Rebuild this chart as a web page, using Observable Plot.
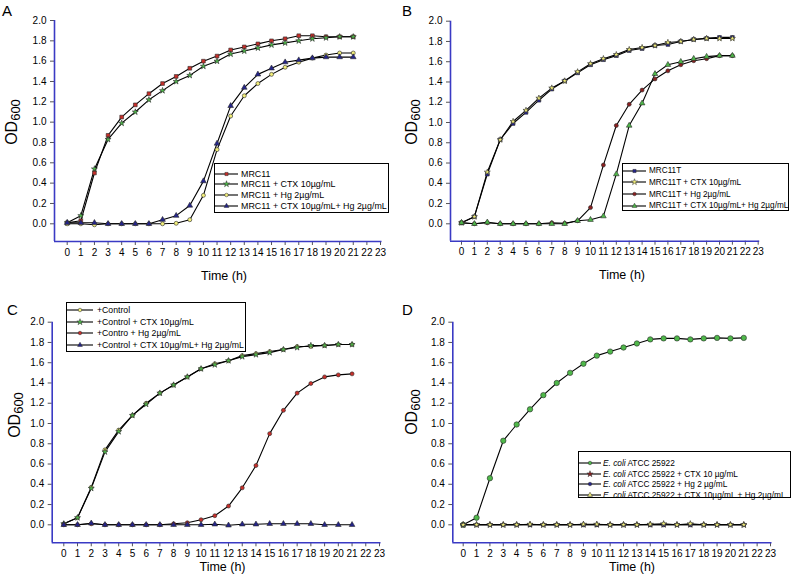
<!DOCTYPE html>
<html>
<head>
<meta charset="utf-8">
<script src="https://cdn.jsdelivr.net/npm/d3@7"></script>
<script src="https://cdn.jsdelivr.net/npm/@observablehq/plot@0.6"></script>
<style>
  html, body { margin: 0; padding: 0; background: #fff; }
  #root { position: relative; width: 798px; height: 583px; overflow: hidden; font-family: "Liberation Sans", Arial, sans-serif; color: #000; }
  .plot { position: absolute; }
  .letter { position: absolute; font-size: 15px; line-height: 1; }
  .xlab { position: absolute; font-size: 12.5px; transform: translate(-50%, -50%); white-space: nowrap; }
  .ylab { position: absolute; font-size: 16px; transform: translate(-50%, -50%) rotate(-90deg); white-space: nowrap; line-height: 1; }
  .ylab sub { font-size: 13px; vertical-align: -3px; }
  .legend { position: absolute; border: 1px solid #000; background: #fff; box-sizing: border-box; }
  .legrow { position: absolute; left: 0; white-space: nowrap; display: flex; align-items: center; height: 10px; }
  .legrow svg { display: block; }
</style>
</head>
<body>
<div id="root"></div>
<script>
// ---------- data ----------
const hours = [0,1,2,3,4,5,6,7,8,9,10,11,12,13,14,15,16,17,18,19,20,21];
const xTicks = [0,1,2,3,4,5,6,7,8,9,10,11,12,13,14,15,16,17,18,19,20,21,22,23];
const yTicks = [0,0.2,0.4,0.6,0.8,1.0,1.2,1.4,1.6,1.8,2.0];

// Panel A
const aLabels = ["MRC11", "MRC11 + CTX 10\u00b5g/mL", "MRC11 + Hg 2\u00b5g/mL", "MRC11 + CTX 10\u00b5g/mL+ Hg 2\u00b5g/mL"];
const aMRC11      = [0.01,0.03,0.50,0.87,1.05,1.17,1.28,1.38,1.45,1.53,1.60,1.65,1.71,1.74,1.77,1.80,1.82,1.85,1.85,1.84,1.84,1.84];
const aMRC11Ctx   = [0.01,0.08,0.54,0.83,0.99,1.10,1.22,1.31,1.40,1.46,1.55,1.60,1.67,1.70,1.73,1.76,1.78,1.80,1.82,1.83,1.84,1.84];
const aMRC11Hg    = [0.00,0.00,-0.01,0.00,0.00,0.00,0.00,0.00,0.005,0.04,0.28,0.73,1.06,1.26,1.38,1.47,1.54,1.59,1.63,1.66,1.68,1.68];
const aMRC11CtxHg = [0.01,0.01,0.01,0.00,0.00,0.00,0.00,0.04,0.08,0.18,0.42,0.79,1.16,1.34,1.47,1.53,1.59,1.61,1.63,1.64,1.64,1.64];

// Panel B
const bLabels = ["MRC11T", "MRC11T + CTX 10\u00b5g/mL", "MRC11T + Hg 2\u00b5g/mL", "MRC11T + CTX 10\u00b5g/mL+ Hg 2\u00b5g/mL"];
const bMRC11T      = [0.01,0.07,0.49,0.83,0.99,1.10,1.22,1.33,1.41,1.49,1.57,1.62,1.66,1.71,1.73,1.76,1.77,1.80,1.82,1.83,1.84,1.84];
const bMRC11TCtx   = [0.01,0.07,0.51,0.83,1.01,1.12,1.24,1.34,1.41,1.50,1.58,1.63,1.67,1.72,1.74,1.76,1.79,1.80,1.82,1.83,1.83,1.83];
const bMRC11THg    = [0.01,0.00,0.01,0.00,0.00,0.00,0.00,0.01,0.005,0.03,0.16,0.58,0.97,1.18,1.32,1.43,1.51,1.57,1.61,1.63,1.66,1.66];
const bMRC11TCtxHg = [0.01,0.00,0.015,0.00,0.00,0.00,0.00,0.00,0.00,0.03,0.04,0.075,0.49,0.97,1.19,1.48,1.57,1.60,1.63,1.65,1.66,1.66];

// Panel C
const cLabels = ["+Control", "+Control + CTX 10\u00b5g/mL", "+Contro + Hg 2\u00b5g/mL", "+Control + CTX 10\u00b5g/mL+ Hg 2\u00b5g/mL"];
const cControl      = [0.01,0.07,0.37,0.74,0.935,1.08,1.20,1.30,1.38,1.46,1.54,1.59,1.62,1.67,1.69,1.71,1.73,1.76,1.76,1.77,1.78,1.78];
const cControlCtx   = [0.01,0.07,0.36,0.72,0.92,1.08,1.19,1.30,1.38,1.46,1.54,1.58,1.62,1.66,1.68,1.70,1.73,1.75,1.77,1.77,1.78,1.78];
const cControlHg    = [0.00,0.00,0.01,0.00,0.00,0.00,0.00,0.00,0.01,0.02,0.05,0.09,0.185,0.365,0.585,0.90,1.13,1.30,1.395,1.46,1.48,1.49];
const cControlCtxHg = [0.00,0.00,0.015,0.00,0.00,0.00,0.00,0.00,0.00,0.00,0.00,0.005,-0.005,0.005,0.005,0.01,0.01,0.01,0.01,0.00,0.00,0.00];

// Panel D
const dLabels = ["ATCC 25922", "ATCC 25922 + CTX 10 \u00b5g/mL", "ATCC 25922 + Hg 2 \u00b5g/mL", "ATCC 25922 + CTX 10\u00b5g/mL + Hg 2\u00b5g/mL"];
const dEcoli      = [0.00,0.07,0.46,0.83,0.99,1.14,1.28,1.40,1.50,1.59,1.67,1.71,1.75,1.79,1.83,1.84,1.84,1.83,1.84,1.845,1.84,1.845];
const dEcoliCtx   = [0.00,0.00,0.00,0.00,0.00,0.00,0.00,0.00,0.00,0.00,0.00,0.00,0.00,0.00,0.00,0.00,0.00,0.00,0.00,0.00,0.00,0.00];
const dEcoliHg    = [0.00,0.00,0.00,0.00,0.00,0.00,0.00,0.00,0.00,0.00,0.00,0.00,0.00,0.00,0.00,0.00,0.00,0.00,0.00,0.00,0.00,0.00];
const dEcoliCtxHg = [0.00,0.00,0.00,0.00,0.00,0.005,0.00,0.00,0.00,0.005,0.005,0.00,0.00,0.00,0.005,0.01,0.00,0.01,0.00,0.00,0.00,0.00];

// ---------- styling ----------
const AXIS_BLUE = "#3a3ac4";
const RED = "#c62f2a", GREEN = "#4fb84a", YELLOW = "#f2ee7a", BLUE = "#24248a", DARKRED = "#8a2020";
const MARK_STROKE = "#2a2a2a";
const R = { square: 2.1, star: 1.9, circle: 2.0, triangle: 2.1 };

const root = document.getElementById("root");

function add(tag, cls, css, html) {
  const el = document.createElement(tag);
  if (cls) el.className = cls;
  Object.assign(el.style, css || {});
  if (html != null) el.innerHTML = html;
  root.appendChild(el);
  return el;
}

const symbolMap = { square: d3.symbolSquare, star: d3.symbolStar, circle: d3.symbolCircle, triangle: d3.symbolTriangle };

function panel(cfg) {
  const { left, top, W, H, axL, x0, x23, y2, yZero, axB, series } = cfg;
  const kx = (x23 - x0) / 23;
  const ky = (yZero - y2) / 2;
  const xmin = -(x0 - axL) / kx;
  const xmax = 23 + 1.5 / kx;
  const ymin = -(axB - yZero) / ky;
  const marks = [];
  for (const s of series) {
    const data = hours.map((h, i) => ({ t: h, v: s.values[i] }));
    marks.push(Plot.line(data, { x: "t", y: "v", stroke: "#000", strokeWidth: 1.1 }));
  }
  for (const s of series) {
    const data = hours.map((h, i) => ({ t: h, v: s.values[i] }));
    marks.push(Plot.dot(data, { x: "t", y: "v", symbol: s.symbol, fill: s.fill, stroke: MARK_STROKE, strokeWidth: 0.6, r: s.r || R[s.symbol] }));
  }
  marks.push(Plot.axisY({ ticks: yTicks, tickFormat: d3.format(".1f"), tickSize: 4, tickPadding: 4, stroke: "#555", fontSize: 10, label: null }));
  marks.push(Plot.axisX({ ticks: xTicks, tickFormat: d => String(d), tickSize: 4, tickPadding: 3, stroke: "#555", fontSize: 10, label: null }));
  marks.push(Plot.ruleX([xmin], { stroke: AXIS_BLUE, strokeWidth: 1.6 }));
  marks.push(Plot.ruleY([ymin], { stroke: AXIS_BLUE, strokeWidth: 1.6 }));
  const svg = Plot.plot({
    width: W, height: H,
    marginLeft: axL - left,
    marginRight: left + W - (x23 + 1.5),
    marginTop: y2 - top,
    marginBottom: top + H - axB,
    x: { domain: [xmin, xmax] },
    y: { domain: [ymin, 2.0] },
    style: { fontFamily: "'Liberation Sans', Arial, sans-serif", fontSize: "10px", background: "transparent", color: "#000", overflow: "visible" },
    marks
  });
  svg.classList.add("plot");
  svg.style.left = left + "px";
  svg.style.top = top + "px";
  root.appendChild(svg);

  add("div", "letter", { left: cfg.letterX + "px", top: cfg.letterY + "px" }, cfg.letter);
  add("div", "xlab", { left: cfg.xlabX + "px", top: cfg.xlabY + "px" }, "Time (h)");
  add("div", "ylab", { left: cfg.ylabX + "px", top: cfg.ylabY + "px" }, "OD<sub>600</sub>");

  const L = cfg.legend;
  const box = add("div", "legend", { left: L.x + "px", top: L.y + "px", width: L.w + "px", height: L.h + "px", fontSize: L.fs + "px" });
  series.forEach((s, i) => {
    const row = document.createElement("div");
    row.className = "legrow";
    row.style.top = (L.row0 + i * L.dy - 5) + "px";
    const sw = d3.create("svg").attr("width", L.sw).attr("height", 10);
    sw.append("line").attr("x1", 0).attr("x2", L.sw).attr("y1", 5).attr("y2", 5).attr("stroke", "#000").attr("stroke-width", 1.1);
    const sym = s.legendSymbol || s.symbol;
    sw.append("path").attr("transform", `translate(${L.sw / 2},5)`)
      .attr("d", d3.symbol(symbolMap[sym], sym === "star" ? 12 : 10)())
      .attr("fill", s.fill).attr("stroke", MARK_STROKE).attr("stroke-width", 0.5);
    row.appendChild(sw.node());
    const tx = document.createElement("span");
    tx.style.marginLeft = L.gap + "px";
    tx.innerHTML = (L.prefix ? "<i>E. coli</i> " : "") + s.label;
    row.appendChild(tx);
    box.appendChild(row);
  });
}

panel({
  left: 0, top: 0, W: 399, H: 290,
  axL: 54, x0: 66.7, x23: 380, y2: 20, yZero: 223.3, axB: 241,
  letter: "A", letterX: 2, letterY: 3, xlabX: 224, xlabY: 276, ylabX: 13, ylabY: 122,
  legend: { x: 214, y: 163, w: 175, h: 50, row0: 9.5, dy: 10.9, sw: 23, gap: 3, fs: 8.9 },
  series: [
    { label: aLabels[0], values: aMRC11, symbol: "square", fill: RED },
    { label: aLabels[1], values: aMRC11Ctx, symbol: "star", fill: GREEN },
    { label: aLabels[2], values: aMRC11Hg, symbol: "circle", fill: YELLOW },
    { label: aLabels[3], values: aMRC11CtxHg, symbol: "triangle", fill: BLUE }
  ]
});

panel({
  left: 399, top: 0, W: 399, H: 290,
  axL: 450, x0: 461, x23: 757.7, y2: 20.7, yZero: 223.3, axB: 240.7,
  letter: "B", letterX: 402, letterY: 3, xlabX: 622, xlabY: 275, ylabX: 413, ylabY: 122,
  legend: { x: 622, y: 163, w: 167, h: 48, row0: 6.5, dy: 11.8, sw: 23, gap: 3, fs: 8.2 },
  series: [
    { label: bLabels[0], values: bMRC11T, symbol: "square", fill: BLUE },
    { label: bLabels[1], values: bMRC11TCtx, symbol: "star", fill: YELLOW },
    { label: bLabels[2], values: bMRC11THg, symbol: "circle", fill: DARKRED },
    { label: bLabels[3], values: bMRC11TCtxHg, symbol: "triangle", fill: GREEN }
  ]
});

panel({
  left: 0, top: 290, W: 399, H: 293,
  axL: 51.7, x0: 63.3, x23: 379, y2: 321.7, yZero: 524.3, axB: 542.3,
  letter: "C", letterX: 7, letterY: 302, xlabX: 222.5, xlabY: 567, ylabX: 16, ylabY: 415,
  legend: { x: 66, y: 302, w: 180, h: 50, row0: 7, dy: 11.7, sw: 26, gap: 4, fs: 8.7 },
  series: [
    { label: cLabels[0], values: cControl, symbol: "circle", fill: YELLOW },
    { label: cLabels[1], values: cControlCtx, symbol: "star", fill: GREEN },
    { label: cLabels[2], values: cControlHg, symbol: "circle", fill: RED },
    { label: cLabels[3], values: cControlCtxHg, symbol: "triangle", fill: BLUE }
  ]
});

panel({
  left: 399, top: 290, W: 399, H: 293,
  axL: 452.3, x0: 462.7, x23: 770, y2: 321.7, yZero: 524.3, axB: 542.3,
  letter: "D", letterX: 402, letterY: 302, xlabX: 632, xlabY: 567, ylabX: 413, ylabY: 412,
  legend: { x: 578, y: 451, w: 213, h: 47, row0: 11, dy: 10.7, sw: 22, gap: 2, prefix: true, fs: 8.3 },
  series: [
    { label: dLabels[0], values: dEcoli, symbol: "circle", fill: GREEN, r: 2.7 },
    { label: dLabels[1], values: dEcoliCtx, symbol: "star", fill: DARKRED },
    { label: dLabels[2], values: dEcoliHg, symbol: "circle", fill: BLUE },
    { label: dLabels[3], values: dEcoliCtxHg, symbol: "star", fill: YELLOW, legendSymbol: "triangle" }
  ]
});
</script>
</body>
</html>
